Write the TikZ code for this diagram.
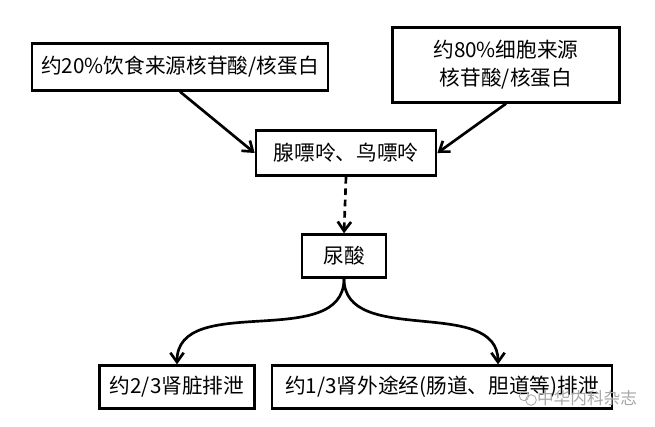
\documentclass[tikz,border=0pt]{standalone}
\usepackage{fontspec}
\setmainfont{Noto Sans CJK SC}
\usetikzlibrary{arrows.meta}
\tikzset{
  stepbox/.style={draw=black, line width=2pt, rectangle, inner sep=0pt, align=center, font=\fontsize{15.5pt}{21pt}\selectfont},
  flow/.style={line width=2pt, -{Straight Barb[length=7pt,width=10pt,line width=2pt]}},
  logo/.style={draw=gray!70, line width=0.6pt, circle, inner sep=0pt},
}
\begin{document}
\begin{tikzpicture}[x=0.75pt, y=-0.75pt]
\useasboundingbox (0,0) rectangle (655,426);

\node (diet) at (180, 67) [stepbox, minimum width=222pt, minimum height=35pt] {约20\%饮食来源核苷酸/核蛋白};
\node (cell) at (506, 65) [stepbox, minimum width=170pt, minimum height=56pt] {约80\%细胞来源\\核苷酸/核蛋白};
\node (purine) at (346, 153) [stepbox, minimum width=135pt, minimum height=34pt] {腺嘌呤、鸟嘌呤};
\node (urate) at (344, 256) [stepbox, minimum width=63pt, minimum height=32pt] {尿酸};
\node (renal) at (177, 387) [stepbox, minimum width=116pt, minimum height=32pt] {约2/3肾脏排泄};
\node (gut) at (442, 387) [stepbox, minimum width=255pt, minimum height=32pt] {约1/3肾外途经(肠道、胆道等)排泄};
\node (mark) at (587, 398) [text=gray!70, font=\fontsize{12.5pt}{14pt}\selectfont] {中华内科杂志};
\node (logoa) at (524, 396) [logo, minimum size=7pt] {};
\node (logob) at (531, 400) [logo, minimum size=8pt] {};

\draw[flow] (diet.south) to (purine.west);
\draw[flow] (cell.south) to (purine.east);
\draw[flow, dash pattern=on 5pt off 3.5pt] (purine.south) to (urate.north);
\draw[flow] (urate.south) to[out=-90, in=90, looseness=1] (renal.north);
\draw[flow] (urate.south) to[out=-90, in=90, looseness=1] ([xshift=42pt]gut.north);
\end{tikzpicture}
\end{document}
